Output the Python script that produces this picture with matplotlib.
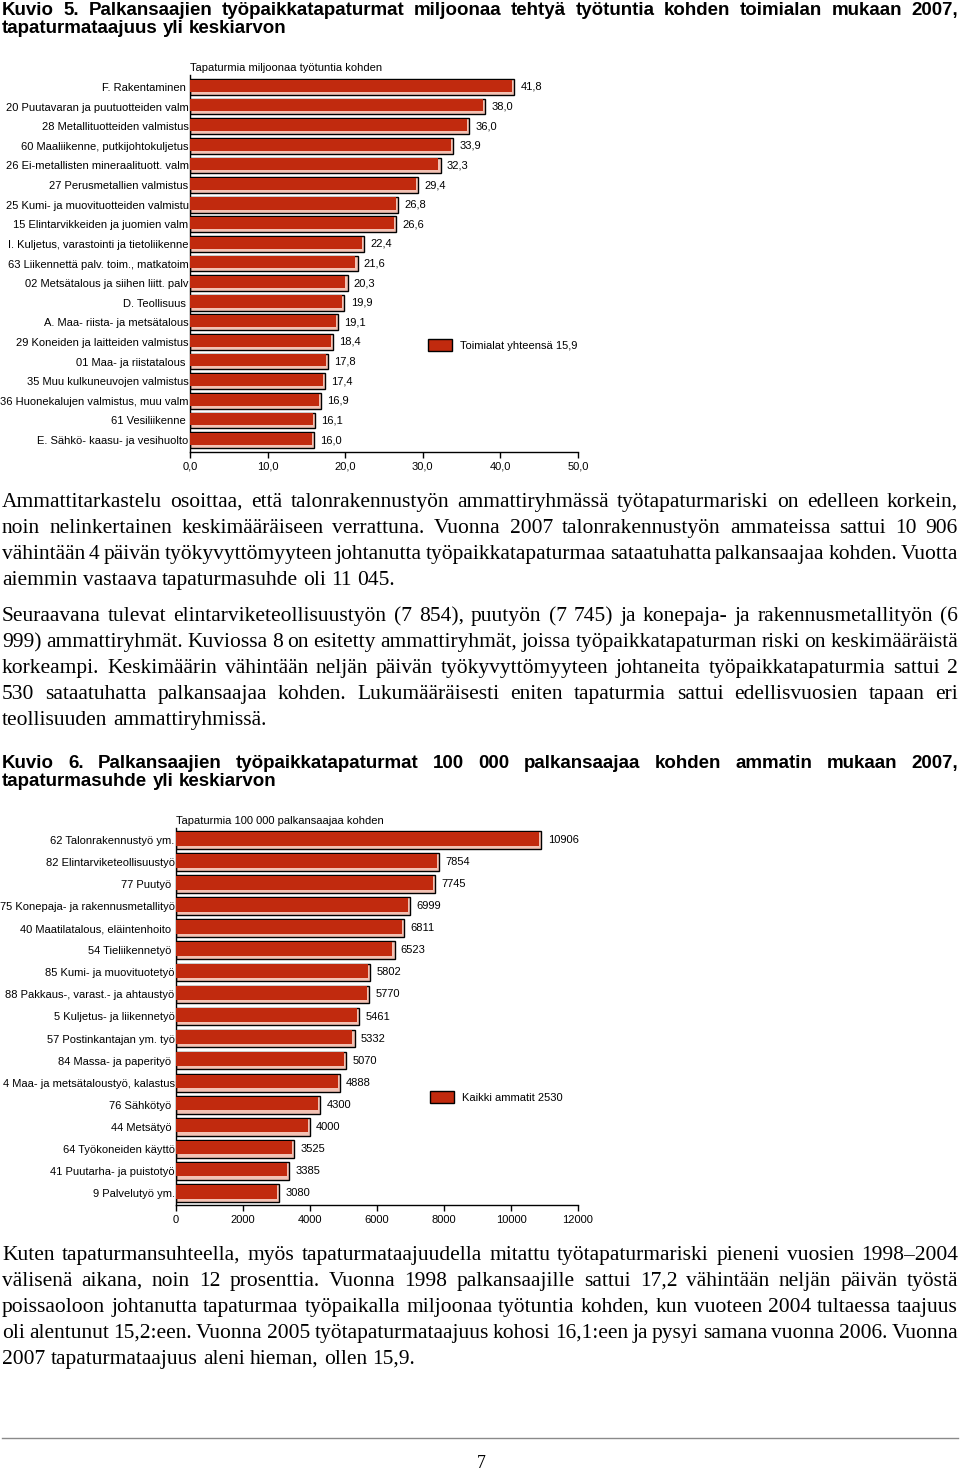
import matplotlib
matplotlib.use('Agg')
import numpy as np
import matplotlib.pyplot as plt
from matplotlib.patches import Patch
from matplotlib.lines import Line2D

# chart 1 data (Kuvio 5)
labels1 = ["F. Rakentaminen ", "20 Puutavaran ja puutuotteiden valm", "28 Metallituotteiden valmistus",
           "60 Maaliikenne, putkijohtokuljetus", "26 Ei-metallisten mineraalituott. valm",
           "27 Perusmetallien valmistus", "25 Kumi- ja muovituotteiden valmistu",
           "15 Elintarvikkeiden ja juomien valm", "I. Kuljetus, varastointi ja tietoliikenne",
           "63 Liikennettä palv. toim., matkatoim", "02 Metsätalous ja siihen liitt. palv",
           "D. Teollisuus ", "A. Maa- riista- ja metsätalous", "29 Koneiden ja laitteiden valmistus",
           "01 Maa- ja riistatalous ", "35 Muu kulkuneuvojen valmistus",
           "36 Huonekalujen valmistus, muu valm", "61 Vesiliikenne ", "E. Sähkö- kaasu- ja vesihuolto"]
values1 = [41.8, 38.0, 36.0, 33.9, 32.3, 29.4, 26.8, 26.6, 22.4, 21.6, 20.3, 19.9, 19.1, 18.4,
           17.8, 17.4, 16.9, 16.1, 16.0]
xticks1 = [0, 10, 20, 30, 40, 50]
title1 = "Tapaturmia miljoonaa työtuntia kohden"
legend1 = "Toimialat yhteensä 15,9"

# chart 2 data (Kuvio 6)
labels2 = ["62 Talonrakennustyö ym.", "82 Elintarviketeollisuustyö", "77 Puutyö ",
           "75 Konepaja- ja rakennusmetallityö", "40 Maatilatalous, eläintenhoito ",
           "54 Tieliikennetyö ", "85 Kumi- ja muovituotetyö", "88 Pakkaus-, varast.- ja ahtaustyö",
           "5 Kuljetus- ja liikennetyö", "57 Postinkantajan ym. työ", "84 Massa- ja paperityö ",
           "4 Maa- ja metsätaloustyö, kalastus", "76 Sähkötyö ", "44 Metsätyö ",
           "64 Työkoneiden käyttö", "41 Puutarha- ja puistotyö", "9 Palvelutyö ym."]
values2 = [10906, 7854, 7745, 6999, 6811, 6523, 5802, 5770, 5461, 5332, 5070, 4888, 4300, 4000,
           3525, 3385, 3080]
xticks2 = [0, 2000, 4000, 6000, 8000, 10000, 12000]
title2 = "Tapaturmia 100 000 palkansaajaa kohden"
legend2 = "Kaikki ammatit 2530"

head1 = ["Kuvio 5. Palkansaajien työpaikkatapaturmat miljoonaa tehtyä työtuntia kohden toimialan mukaan 2007,",
         "tapaturmataajuus yli keskiarvon"]
head2 = ["Kuvio 6. Palkansaajien työpaikkatapaturmat 100 000 palkansaajaa kohden ammatin mukaan 2007,",
         "tapaturmasuhde yli keskiarvon"]
para1 = ["Ammattitarkastelu osoittaa, että talonrakennustyön ammattiryhmässä työtapaturmariski on edelleen korkein,",
         "noin nelinkertainen keskimääräiseen verrattuna. Vuonna 2007 talonrakennustyön ammateissa sattui 10 906",
         "vähintään 4 päivän työkyvyttömyyteen johtanutta työpaikkatapaturmaa sataatuhatta palkansaajaa kohden. Vuotta",
         "aiemmin vastaava tapaturmasuhde oli 11 045."]
para2 = ["Seuraavana tulevat elintarviketeollisuustyön (7 854), puutyön (7 745) ja konepaja- ja rakennusmetallityön (6",
         "999) ammattiryhmät. Kuviossa 8 on esitetty ammattiryhmät, joissa työpaikkatapaturman riski on keskimääräistä",
         "korkeampi. Keskimäärin vähintään neljän päivän työkyvyttömyyteen johtaneita työpaikkatapaturmia sattui 2",
         "530 sataatuhatta palkansaajaa kohden. Lukumääräisesti eniten tapaturmia sattui edellisvuosien tapaan eri",
         "teollisuuden ammattiryhmissä."]
para3 = ["Kuten tapaturmansuhteella, myös tapaturmataajuudella mitattu työtapaturmariski pieneni vuosien 1998–2004",
         "välisenä aikana, noin 12 prosenttia. Vuonna 1998 palkansaajille sattui 17,2 vähintään neljän päivän työstä",
         "poissaoloon johtanutta tapaturmaa työpaikalla miljoonaa työtuntia kohden, kun vuoteen 2004 tultaessa taajuus",
         "oli alentunut 15,2:een. Vuonna 2005 työtapaturmataajuus kohosi 16,1:een ja pysyi samana vuonna 2006. Vuonna",
         "2007 tapaturmataajuus aleni hieman, ollen 15,9."]

RED = '#c12a0e'
PINK = '#f3c2b4'
W, H = 960, 1470
LEFT, RIGHT = 2, 958

fig = plt.figure(figsize=(9.6, 14.7), dpi=100)
fig.patch.set_facecolor('white')
renderer = fig.canvas.get_renderer()


def fx(x):
    return x / W


def fy(y):
    return 1 - y / H


def width_of(s, **kw):
    t = fig.text(0, 0, s, **kw)
    w = t.get_window_extent(renderer).width
    t.remove()
    return w


def fit_size(line, size, **kw):
    words = line.split(' ')
    space = width_of('a a', fontsize=size, **kw) - width_of('aa', fontsize=size, **kw)
    need = sum(width_of(w, fontsize=size, **kw) for w in words) + (len(words) - 1) * space * 0.3
    span = RIGHT - LEFT
    return size if need <= span else size * span / need


def put_line(line, base, size, last=False, **kw):
    words = line.split(' ')
    space = width_of('a a', fontsize=size, **kw) - width_of('aa', fontsize=size, **kw)
    widths = [width_of(w, fontsize=size, **kw) for w in words]
    if last or len(words) == 1:
        gap = space
    else:
        gap = (RIGHT - LEFT - sum(widths)) / (len(words) - 1)
    x = LEFT
    for w, wd in zip(words, widths):
        fig.text(fx(x), fy(base), w, fontsize=size, ha='left', va='baseline', **kw)
        x += wd + gap


def put_par(lines, base0, step, size, **kw):
    size = min(fit_size(ln, size, **kw) for ln in lines[:-1])
    for i, ln in enumerate(lines):
        put_line(ln, base0 + i * step, size, last=(i == len(lines) - 1), **kw)


head_kw = dict(family='Liberation Sans', weight='bold', color='black')
body_kw = dict(family='Liberation Serif', color='black')

put_par(head1, 15, 18, 13.5, **head_kw)
put_par(para1, 507, 26, 15.5, **body_kw)
put_par(para2, 621, 26, 15.5, **body_kw)
put_par(head2, 768, 18, 13.5, **head_kw)
put_par(para3, 1260, 26, 15.5, **body_kw)


def bar_chart(ax, labels, values, xticks, fmt, title, legend_label, legend_xy, step_px):
    n = len(values)
    pos = np.arange(n)
    ax.barh(pos, values, height=0.8, color=PINK, edgecolor='black', linewidth=1.0, zorder=2)
    unit = (xticks[-1] - xticks[0]) / (ax.get_position().width * W)
    ax.barh(pos - 0.06, [v - 2.2 * unit for v in values], height=0.62, color=RED,
            linewidth=0, zorder=3)
    top = -12 / step_px
    ax.set_ylim(n - 1 - top, top)
    ax.set_xlim(xticks[0], xticks[-1])
    ax.set_xticks(xticks)
    ax.set_xticklabels([fmt(v) for v in xticks], family='Liberation Sans', fontsize=8)
    ax.set_yticks(pos)
    ax.set_yticklabels(labels, family='Liberation Sans', fontsize=8)
    ax.tick_params(axis='y', length=0, pad=1)
    ax.tick_params(axis='x', length=4, width=1, direction='out', pad=3, colors='black')
    for s in ['top', 'right']:
        ax.spines[s].set_visible(False)
    for s in ['left', 'bottom']:
        ax.spines[s].set_linewidth(1.0)
        ax.spines[s].set_color('black')
    for i, v in enumerate(values):
        ax.annotate(fmt(v), (v, i), xytext=(4.5, 0), textcoords='offset points',
                    va='center', ha='left', family='Liberation Sans', fontsize=8)
    ax.text(0, 1.004, title, transform=ax.transAxes, ha='left', va='bottom',
            family='Liberation Sans', fontsize=8)
    fig.legend(handles=[Patch(facecolor=RED, edgecolor='black', linewidth=1.0, label=legend_label)],
               loc='center left', bbox_to_anchor=(fx(legend_xy[0]), fy(legend_xy[1])),
               bbox_transform=fig.transFigure, frameon=False, borderaxespad=0, borderpad=0,
               handlelength=2.2, handleheight=1.2, handletextpad=0.7,
               prop={'family': 'Liberation Sans', 'size': 8})
    ax.set_facecolor('none')


ax1 = fig.add_axes([fx(190), fy(452), (578 - 190) / W, (452 - 75) / H])
bar_chart(ax1, labels1, values1, xticks1, lambda v: f"{v:.1f}".replace('.', ','),
          title1, legend1, (428, 345), (440 - 86) / (len(values1) - 1))

ax2 = fig.add_axes([fx(176), fy(1205), (578 - 176) / W, (1205 - 828) / H])
bar_chart(ax2, labels2, values2, xticks2, lambda v: f"{int(v)}",
          title2, legend2, (430, 1097), (1193 - 840) / (len(values2) - 1))

fig.add_artist(Line2D([fx(2), fx(958)], [fy(1438), fy(1438)], color='#8a8a8a', linewidth=1.0))
fig.text(fx(481), fy(1468), "7", ha='center', va='baseline', family='Liberation Serif', fontsize=13)

fig.savefig('out.png', dpi=100, facecolor='white')
